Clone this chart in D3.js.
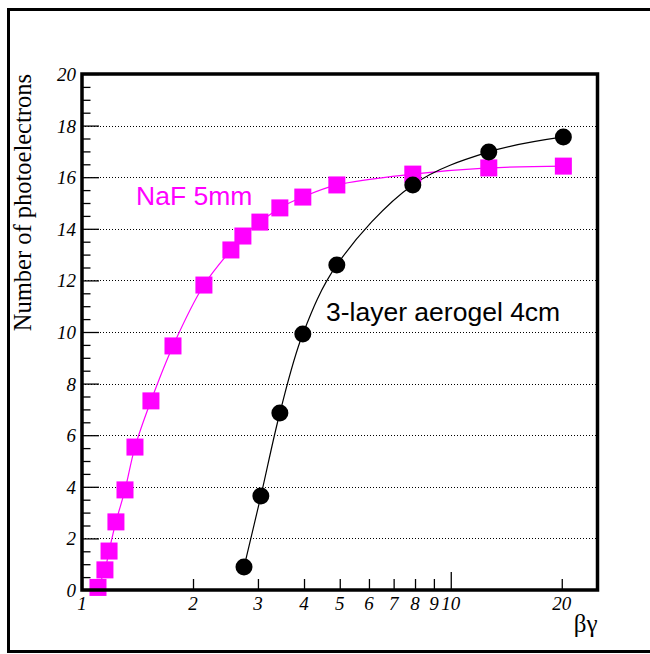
<!DOCTYPE html>
<html>
<head>
<meta charset="utf-8">
<script src="https://cdn.jsdelivr.net/npm/d3@7"></script>
<style>
  html, body { margin: 0; padding: 0; background: #fff; }
  svg { display: block; }
</style>
</head>
<body>
<svg id="chart" width="650" height="654"></svg>
<script>
// βγ values and photoelectron yields for the two radiators
const nafBetaGamma = [1.105, 1.154, 1.184, 1.236, 1.308, 1.392, 1.538, 1.765, 2.141, 2.534, 2.731, 3.037, 3.44, 3.97, 4.91, 7.89, 12.68, 20.2];
const nafYield     = [0.1, 0.78, 1.51, 2.64, 3.88, 5.54, 7.33, 9.46, 11.82, 13.18, 13.72, 14.26, 14.81, 15.23, 15.70, 16.12, 16.36, 16.43];

const aerogelBetaGamma = [2.75, 3.055, 3.44, 3.97, 4.91, 7.89, 12.68, 20.2];
const aerogelYield     = [0.89, 3.64, 6.86, 9.92, 12.6, 15.7, 16.98, 17.56];

const xTickValues = [1, 2, 3, 4, 5, 6, 7, 8, 9, 10, 20];
const xTickLabels = ["1", "2", "3", "4", "5", "6", "7", "8", "9", "10", "20"];
const yTickValues = [0, 2, 4, 6, 8, 10, 12, 14, 16, 18, 20];
const yGridValues = [2, 4, 6, 8, 10, 12, 14, 16, 18];

const seriesNames = ["NaF 5mm", "3-layer aerogel 4cm"];
const axisTitles = { x: "βγ", y: "Number of photoelectrons" };

const svg = d3.select("#chart");
const frame = { left: 82, right: 597.5, top: 74, bottom: 590 };

const x = d3.scaleLog().domain([1, 25]).range([frame.left, frame.right]);
const y = d3.scaleLinear().domain([0, 20]).range([frame.bottom, frame.top]);

const serif = "'Liberation Serif', 'Times New Roman', serif";
const sans = "'Liberation Sans', Arial, Helvetica, sans-serif";

// outer canvas border (right edge runs off the page)
svg.append("rect")
  .attr("x", 8.5).attr("y", 9.5)
  .attr("width", 720).attr("height", 642)
  .attr("fill", "none").attr("stroke", "#000").attr("stroke-width", 3);

// horizontal dotted grid
svg.append("g").selectAll("line").data(yGridValues).join("line")
  .attr("x1", frame.left).attr("x2", frame.right)
  .attr("y1", d => Math.round(y(d)) + 0.5).attr("y2", d => Math.round(y(d)) + 0.5)
  .attr("stroke", "#000").attr("stroke-width", 1).attr("stroke-dasharray", "1,2");

// y axis: major ticks every 2, minor every 0.5
const yMinor = d3.range(0, 20.01, 0.5).filter(v => Math.abs(v % 2) > 1e-6);
const yAxisMajor = d3.axisRight(y).tickValues(yTickValues).tickSize(17).tickFormat("");
const yAxisMinor = d3.axisRight(y).tickValues(yMinor).tickSize(8.5).tickFormat("");
[yAxisMajor, yAxisMinor].forEach(ax => {
  svg.append("g").attr("transform", `translate(${frame.left},0)`).call(ax)
    .call(g => g.select(".domain").remove())
    .call(g => g.selectAll("line").attr("stroke", "#000").attr("stroke-width", 1.3));
});

// y tick labels
svg.append("g").selectAll("text").data(yTickValues).join("text")
  .attr("x", frame.left - 6).attr("y", d => y(d) + 7)
  .attr("text-anchor", "end")
  .attr("font-family", serif)
  .attr("font-style", "italic").attr("font-size", 19)
  .text(d => d);

// x axis: ticks upward from the bottom edge, longer at the decade
const xAxis = d3.axisTop(x).tickValues(xTickValues).tickSize(11).tickFormat("");
svg.append("g").attr("transform", `translate(0,${frame.bottom})`).call(xAxis)
  .call(g => g.select(".domain").remove())
  .call(g => g.selectAll(".tick line")
    .attr("stroke", "#000").attr("stroke-width", 1.3)
    .attr("y2", d => d === 10 ? -18 : -11));

svg.append("g").selectAll("text").data(xTickValues).join("text")
  .attr("x", d => x(d)).attr("y", frame.bottom + 20)
  .attr("text-anchor", "middle")
  .attr("font-family", serif)
  .attr("font-style", "italic").attr("font-size", 19)
  .text((d, i) => xTickLabels[i]);

// smooth curves through the measurements
const line = d3.line()
  .x(d => x(d[0])).y(d => y(d[1]))
  .curve(d3.curveCatmullRom.alpha(0.5));

const nafPoints = nafBetaGamma.map((v, i) => [v, nafYield[i]]);
const aerogelPoints = aerogelBetaGamma.map((v, i) => [v, aerogelYield[i]]);

svg.append("path").datum(nafPoints).attr("d", line)
  .attr("fill", "none").attr("stroke", "#ff00ff").attr("stroke-width", 1.2);
svg.append("path").datum(aerogelPoints).attr("d", line)
  .attr("fill", "none").attr("stroke", "#000").attr("stroke-width", 1.2);

// markers
const sq = 17;
svg.append("g").selectAll("rect").data(nafPoints).join("rect")
  .attr("x", d => x(d[0]) - sq / 2).attr("y", d => y(d[1]) - sq / 2)
  .attr("width", sq).attr("height", sq)
  .attr("fill", "#ff00ff");
svg.append("g").selectAll("circle").data(aerogelPoints).join("circle")
  .attr("cx", d => x(d[0])).attr("cy", d => y(d[1])).attr("r", 8.5)
  .attr("fill", "#000");

// plot frame
svg.append("rect")
  .attr("x", frame.left).attr("y", frame.top)
  .attr("width", frame.right - frame.left).attr("height", frame.bottom - frame.top)
  .attr("fill", "none").attr("stroke", "#000").attr("stroke-width", 3.5);

// series labels
svg.append("text").attr("x", 136).attr("y", 205)
  .attr("font-family", sans).attr("font-size", 26.5)
  .attr("fill", "#ff00ff").text(seriesNames[0]);
svg.append("text").attr("x", 326).attr("y", 321)
  .attr("font-family", sans).attr("font-size", 26.5)
  .attr("fill", "#000").text(seriesNames[1]);

// axis titles
svg.append("text").attr("x", frame.right).attr("y", 632)
  .attr("text-anchor", "end")
  .attr("font-family", serif).attr("font-size", 25)
  .text(axisTitles.x);
svg.append("text")
  .attr("transform", `translate(31,${frame.top}) rotate(-90)`)
  .attr("text-anchor", "end")
  .attr("font-family", serif).attr("font-size", 24.5)
  .text(axisTitles.y);
</script>
</body>
</html>
